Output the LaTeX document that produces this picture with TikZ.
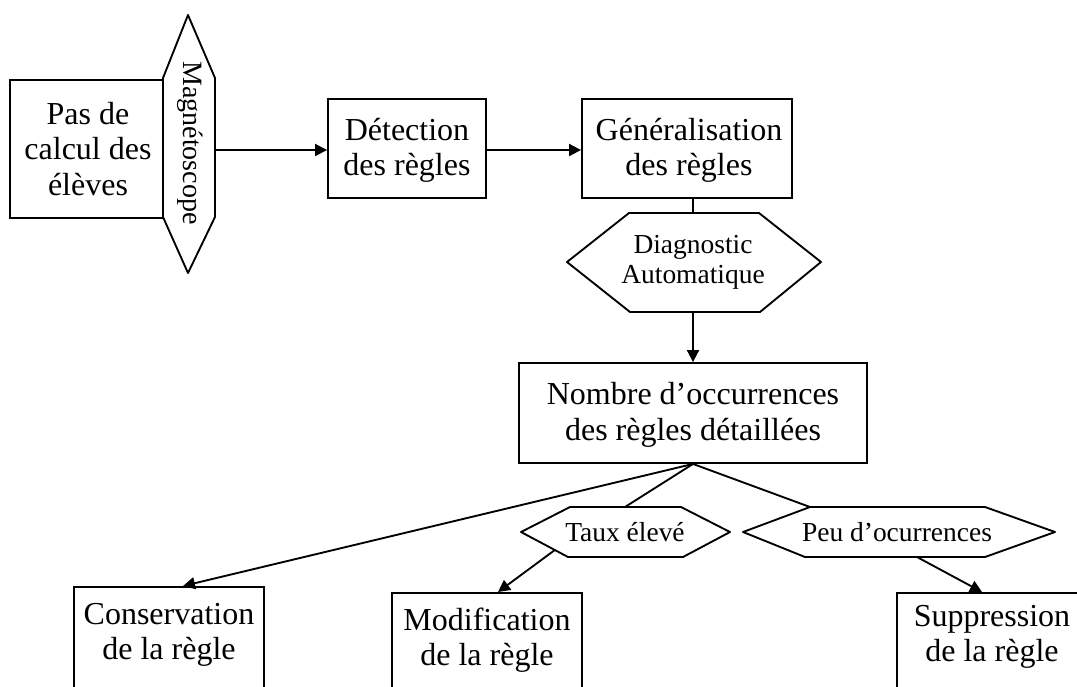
\documentclass[tikz,border=0pt]{standalone}
\usepackage{fontspec}
\setmainfont{Liberation Serif}
\usetikzlibrary{arrows.meta,calc}
\newcommand\bigf{\fontsize{24}{26.5}\selectfont}
\newcommand\smallf{\fontsize{20.6}{22.5}\selectfont}
\begin{document}
\begin{tikzpicture}[x=0.75pt,y=-0.75pt,
  ln/.style={line width=1.4pt,line join=round},
  arr/.style={ln,-{Triangle[length=9pt,width=9pt]}},
  boxn/.style={draw,line width=1.4pt,inner sep=0pt},
  txt/.style={align=center,inner sep=0pt,font=\bigf},
  stxt/.style={align=center,inner sep=0pt,font=\smallf}]
\useasboundingbox (0,0) rectangle (1077,686);
\clip (0,0) rectangle (1077,686);
\fill[white] (0,0) rectangle (1077,686);

% top row boxes
\node[boxn,minimum width=115pt,minimum height=103.5pt] (pas) at (86.5,149) {};
\node[txt] (pasT) at (88,149) {Pas de\\calcul des\\élèves};

\node[boxn,minimum width=118.5pt,minimum height=74.25pt] (det) at (407,148.5) {};
\node[txt] (detT) at (407,150) {Détection\\des règles};

\node[boxn,minimum width=157.5pt,minimum height=74.25pt] (gen) at (687,148.5) {};
\node[txt] (genT) at (689,150) {Généralisation\\des règles};

% Magnetoscope hexagon
\coordinate (mT) at (188,15);
\coordinate (mTR) at (215,78);
\coordinate (mBR) at (215,217);
\coordinate (mB) at (188,273);
\coordinate (mBL) at (163,217);
\coordinate (mTL) at (163,78);
\draw[ln,fill=white] (mT) -- (mTR) -- (mBR) -- (mB) -- (mBL) -- (mTL) -- cycle;
\node[inner sep=0pt,rotate=-90,font=\fontsize{21}{24}\selectfont] (mag) at (190,143) {Magnétoscope};
\coordinate (mR) at (215,150);

% Diagnostic hexagon
\coordinate (dTL) at (629,213);
\coordinate (dTR) at (759,213);
\coordinate (dR) at (821,262);
\coordinate (dBR) at (760,312);
\coordinate (dBL) at (630,312);
\coordinate (dL) at (567,262);
\draw[ln] (dTL) -- (dTR) -- (dR) -- (dBR) -- (dBL) -- (dL) -- cycle;
\node[stxt] (diag) at (693,262) {Diagnostic\\Automatique};
\coordinate (dT) at (693,213);
\coordinate (dB) at (693,312);

% Nombre box
\node[boxn,minimum width=261pt,minimum height=75pt] (nomb) at (693,413) {};
\node[txt] (nombT) at (693,415) {Nombre d’occurrences\\des règles détaillées};

% Taux hexagon
\coordinate (tTL) at (570,507);
\coordinate (tTR) at (681,507);
\coordinate (tR) at (730,532);
\coordinate (tBR) at (683,557);
\coordinate (tBL) at (568,557);
\coordinate (tL) at (521,532);
\draw[ln] (tTL) -- (tTR) -- (tR) -- (tBR) -- (tBL) -- (tL) -- cycle;
\node[stxt] (taux) at (625,532) {Taux élevé};
\coordinate (tT) at (625,507);

% Peu hexagon
\coordinate (pTL) at (810,507);
\coordinate (pTR) at (985,507);
\coordinate (pR) at (1055,532);
\coordinate (pBR) at (985,557);
\coordinate (pBL) at (805,557);
\coordinate (pL) at (743,532);
\draw[ln] (pTL) -- (pTR) -- (pR) -- (pBR) -- (pBL) -- (pL) -- cycle;
\node[stxt] (peu) at (897,532) {Peu d’ocurrences};
\coordinate (pB) at (917,557);

% bottom boxes
\node[boxn,minimum width=142.5pt,minimum height=90pt,anchor=north] (cons) at (169,586) {};
\node[txt] (consT) at (169,635) {Conservation\\de la règle};
\node[boxn,minimum width=142.5pt,minimum height=90pt,anchor=north] (modi) at (487,592) {};
\node[txt] (modiT) at (487,640) {Modification\\de la règle};
\node[boxn,minimum width=142.5pt,minimum height=90pt,anchor=north] (supp) at (992,592) {};
\node[txt] (suppT) at (992,637) {Suppression\\de la règle};

% connectors
\draw[arr] (mR) -- (det.west |- mR);
\draw[arr] (det.east |- mR) -- (gen.west |- mR);
\draw[ln] (dT) -- (dT |- gen.south);
\draw[arr] (dB) -- (dB |- nomb.north);
\coordinate (fan) at (nomb.south);
\draw[arr] (fan) -- ($(cons.north)+(14,0)$);
\draw[ln] (fan) -- (tT);
\draw[ln] (fan) -- (pTL);
\draw[arr] ($(tL)!0.72!(tBL)$) -- ($(modi.north)+(11,0)$);
\draw[arr] (pB) -- ($(supp.north)+(-10,0)$);
\end{tikzpicture}
\end{document}
